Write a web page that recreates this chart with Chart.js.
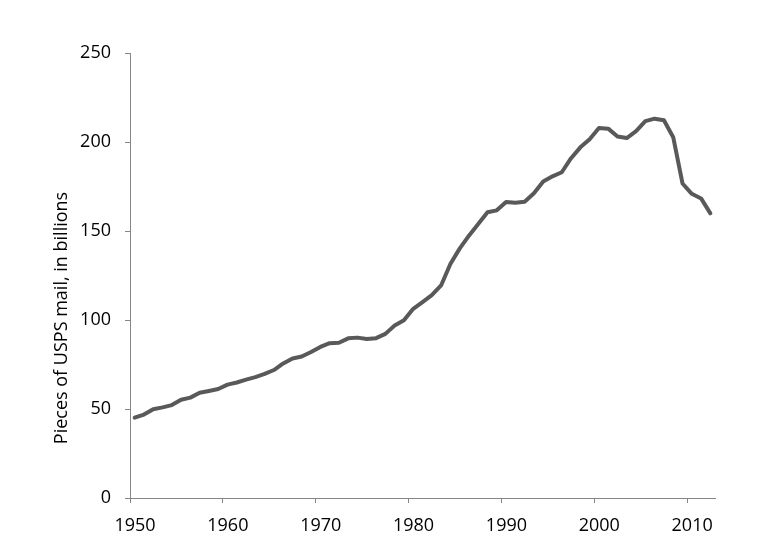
<!DOCTYPE html>
<html>
<head>
<meta charset="utf-8">
<script src="https://cdn.jsdelivr.net/npm/chart.js@4/dist/chart.umd.min.js"></script>
<style>
  body { margin: 0; background: #fff; }
  canvas { display: block; }
</style>
</head>
<body>
<canvas id="mailChart" width="768" height="536"></canvas>
<script>
'use strict';

// chart data

let years = [
  1950, 1951, 1952, 1953, 1954, 1955, 1956, 1957, 1958, 1959,
  1960, 1961, 1962, 1963, 1964, 1965, 1966, 1967, 1968, 1969,
  1970, 1971, 1972, 1973, 1974, 1975, 1976, 1977, 1978, 1979,
  1980, 1981, 1982, 1983, 1984, 1985, 1986, 1987, 1988, 1989,
  1990, 1991, 1992, 1993, 1994, 1995, 1996, 1997, 1998, 1999,
  2000, 2001, 2002, 2003, 2004, 2005, 2006, 2007, 2008, 2009,
  2010, 2011, 2012
];

// pieces of mail, billions
let mailVolume = [
  45.1, 46.9, 49.9, 50.9, 52.2, 55.2, 56.4, 59.1, 60.1, 61.2,
  63.7, 64.9, 66.5, 67.9, 69.7, 71.9, 75.6, 78.4, 79.5, 82.0,
  84.9, 87.0, 87.2, 89.7, 90.1, 89.3, 89.8, 92.2, 96.9, 99.8,
  106.3, 110.1, 114.0, 119.4, 131.5, 140.1, 147.4, 153.9, 160.5, 161.6,
  166.3, 165.9, 166.4, 171.2, 177.8, 180.7, 183.0, 190.9, 197.0, 201.6,
  207.9, 207.5, 203.1, 202.2, 206.1, 211.7, 213.1, 212.2, 202.7, 176.7,
  170.9, 168.3, 159.9
];

let xMin = 1950;
let xMax = 2013;
let yTicks = [0, 50, 100, 150, 200, 250];
let yTitle = 'Pieces of USPS mail, in billions';

let axisColor = '#868686';
let fontName = '"Open Sans", "Liberation Sans", sans-serif';

// each year is plotted in the middle of its slot
let points = [];
for (let i = 0; i < years.length; i++) {
  points.push({ x: years[i] + 0.5, y: mailVolume[i] });
}

// y axis title sits a bit below the middle of the plot, like the original
let sideTitle = {
  id: 'sideTitle',
  afterDraw(chart) {
    let ctx = chart.ctx;
    ctx.save();
    ctx.translate(62, 318);
    ctx.rotate(-Math.PI / 2);
    ctx.font = '18px ' + fontName;
    ctx.fillStyle = '#000';
    ctx.textAlign = 'center';
    ctx.textBaseline = 'middle';
    ctx.fillText(yTitle, 0, 0);
    ctx.restore();
  }
};

const config = {
  type: 'line',
  data: {
    datasets: [{
      data: points,
      borderColor: '#595959',
      borderWidth: 4,
      borderJoinStyle: 'round',
      borderCapStyle: 'round',
      pointRadius: 0,
      tension: 0,
      fill: false
    }]
  },
  options: {
    responsive: false,
    animation: false,
    layout: {
      padding: { top: 53, right: 53, left: 0, bottom: 0 }
    },
    plugins: {
      legend: { display: false },
      tooltip: { enabled: false }
    },
    scales: {
      x: {
        type: 'linear',
        min: xMin,
        max: xMax,
        afterFit(scale) { scale.height = 38; },
        border: { display: true, color: axisColor, width: 1 },
        grid: { drawOnChartArea: false, drawTicks: true, tickLength: 5, color: axisColor },
        ticks: {
          stepSize: 10,
          includeBounds: false,
          padding: 12,
          labelOffset: 5,
          color: '#000',
          font: { family: fontName, size: 18 },
          maxRotation: 0,
          callback: (value) => String(value)
        }
      },
      y: {
        min: yTicks[0],
        max: yTicks[yTicks.length - 1],
        afterFit(scale) { scale.width = 130; },
        border: { display: true, color: axisColor, width: 1 },
        grid: { drawOnChartArea: false, drawTicks: true, tickLength: 5, color: axisColor },
        ticks: {
          stepSize: 50,
          padding: 14,
          color: '#000',
          font: { family: fontName, size: 18 }
        }
      }
    }
  },
  plugins: [sideTitle]
};

let canvasChart = document.getElementById('mailChart');
const mailChart = new Chart(canvasChart, config);
</script>
</body>
</html>
